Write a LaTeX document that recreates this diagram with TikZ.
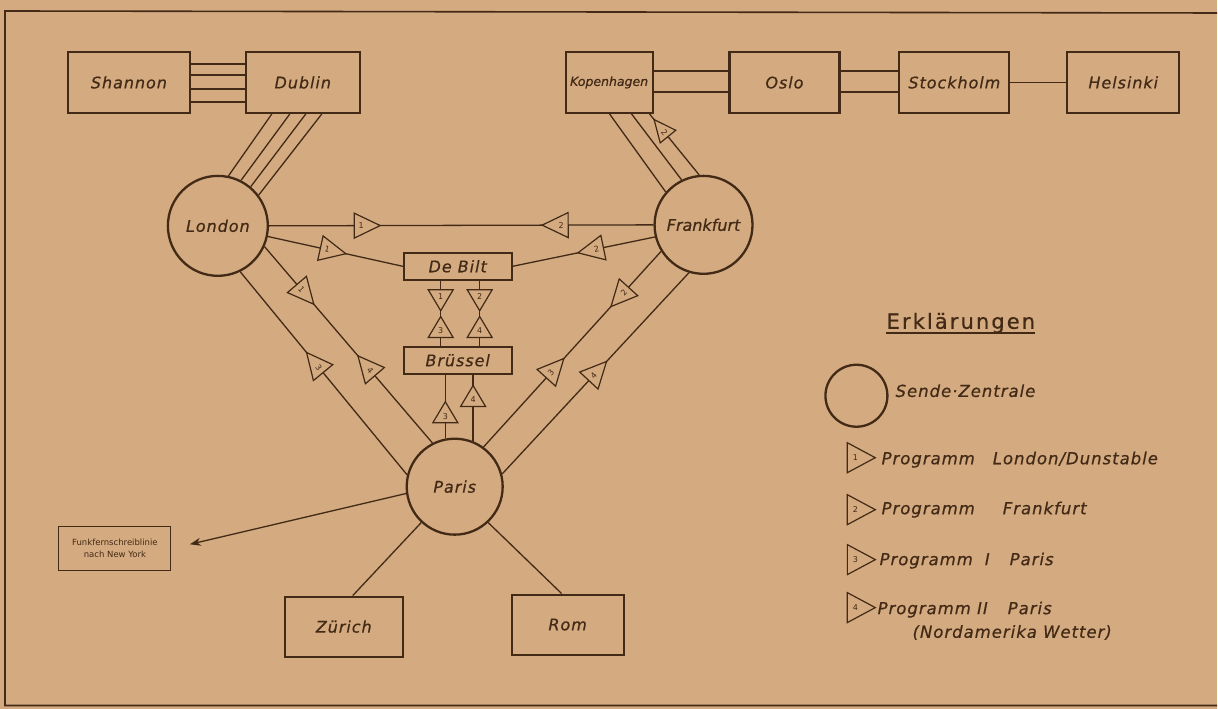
\documentclass[tikz,border=0pt]{standalone}
\usepackage{fontspec}
\setmainfont{DejaVu Sans}
\newfontfamily\lab[LetterSpace=6,FakeBold=0.6]{DejaVu Sans}
\newfontfamily\labw[LetterSpace=10,FakeBold=0.6]{DejaVu Sans}
\newfontfamily\labk[FakeBold=0.6]{DejaVu Sans}
\newfontfamily\labt{DejaVu Sans}
\usetikzlibrary{shapes.geometric,arrows.meta}
\definecolor{bg}{RGB}{212,170,128}
\definecolor{ink}{RGB}{66,42,22}
\tikzset{
  box/.style={draw=ink, line width=2.1pt, rectangle, minimum height=61pt, inner sep=0pt, text=ink,
    font=\lab\itshape\fontsize{16}{18}\selectfont},
  sbox/.style={box, minimum height=27pt, minimum width=108pt, line width=1.7pt},
  city/.style={draw=ink, circle, line width=2.3pt, inner sep=0pt, text=ink,
    font=\lab\itshape\fontsize{16}{18}\selectfont},
  link/.style={draw=ink, line width=1.3pt},
  tribase/.style={isosceles triangle, isosceles triangle stretches, draw=ink, fill=bg,
    line width=1.2pt, inner sep=0pt, minimum height=26pt, minimum width=25pt, text=ink,
    font=\labt\fontsize{8}{8}\selectfont},
  tri/.style={tribase, sloped},
  trirev/.style={tribase, sloped, shape border rotate=180},
  tdown/.style={tribase, shape border rotate=270, minimum height=21pt, minimum width=25pt},
  tup/.style={tribase, shape border rotate=90, minimum height=21pt, minimum width=25pt},
  ltri/.style={tribase, minimum height=28pt, minimum width=30pt},
  legtext/.style={anchor=west, inner sep=0pt, text=ink, font=\lab\itshape\fontsize{16.5}{18}\selectfont},
}
\begin{document}
\begin{tikzpicture}[x=1pt,y=-1pt]
\fill[bg] (0,0) rectangle (1218,709);
\draw[ink, line width=1.6pt] (1218,13) -- (5,11) -- (5,706) -- (1218,706);

% boxes
\node[box, minimum width=122pt] (shannon) at (129,82.5) {Shannon};
\node[box, minimum width=114pt] (dublin) at (303,82.5) {Dublin};
\node[box, minimum width=87pt, font=\labk\itshape\fontsize{12.5}{15}\selectfont] (kop) at (609.5,82.5) {Kopenhagen};
\node[box, minimum width=110pt] (oslo) at (785,82.5) {Oslo};
\node[box, minimum width=110pt] (stock) at (955,82.5) {Stockholm};
\node[box, minimum width=112pt] (hel) at (1124,82.5) {Helsinki};
\node[city, minimum size=100pt] (london) at (218,226) {London};
\node[city, minimum size=98pt, font=\labk\itshape\fontsize{16}{18}\selectfont] (frankfurt) at (704,225) {Frankfurt};
\node[city, minimum size=96pt] (paris) at (455,487) {Paris};
\node[sbox] (debilt) at (458,266.5) {De Bilt};
\node[sbox] (bruessel) at (458,360.5) {Brüssel};
\node[box, minimum width=118pt, minimum height=60pt] (zurich) at (344,627) {Zürich};
\node[box, minimum width=112pt, minimum height=60pt] (rom) at (568,625) {Rom};
\node[draw=ink, line width=1pt, minimum width=112pt, minimum height=44pt, align=center, inner sep=0pt,
  font=\labt\fontsize{8.5}{12}\selectfont, text=ink] (ny) at (115,549) {Funkfernschreiblinie\\nach New York};

% northern links
\foreach \y in {64,75,89,102} \draw[link] (shannon.east |- 0,\y) -- (dublin.west |- 0,\y);
\foreach \y in {71,92} {
  \draw[link] (kop.east |- 0,\y) -- (oslo.west |- 0,\y);
  \draw[link] (oslo.east |- 0,\y) -- (stock.west |- 0,\y);
}
\draw[link] (stock.east) -- (hel.west);

\draw[link] (dublin.south -| 272,0) -- (london.78);
\draw[link] (dublin.south -| 290,0) -- (london.63);
\draw[link] (dublin.south -| 306,0) -- (london.50);
\draw[link] (dublin.south -| 322,0) -- (london.37);

\draw[link] (kop.south -| 610,0) -- (frankfurt.139);
\draw[link] (kop.south -| 632,0) -- (frankfurt.116);
\draw[link] (kop.south -| 650,0) -- node[trirev,pos=.3,minimum height=22pt,minimum width=20pt] (m0) {2} (frankfurt.95);

% London - Frankfurt - De Bilt
\draw[link] (london.east) -- node[tri,pos=.24] (m1) {1} node[trirev,pos=.76] (m2) {2} (frankfurt.west);
\draw[link] (london.-12) -- node[tri,pos=.44] (m3) {1} (debilt.west);
\draw[link] (debilt.east) -- node[trirev,pos=.59] (m4) {2} (frankfurt.194);

% De Bilt - Bruessel
\draw[link] (debilt.south -| 441,0) -- node[tdown,pos=.24] (m5) {1} node[tup,pos=.77] (m6) {3} (bruessel.north -| 441,0);
\draw[link] (debilt.south -| 480,0) -- node[tdown,pos=.24] (m7) {2} node[tup,pos=.77] (m8) {4} (bruessel.north -| 480,0);

% Bruessel - Paris
\draw[link] (bruessel.south -| paris.101) -- node[tup,pos=.65] (m9) {3} (paris.101);
\draw[link] (bruessel.south -| paris.68) -- node[tup,pos=.38] (m10) {4} (paris.68);

% London - Paris
\draw[link] (london.-24) -- node[tri,pos=.22] (m11) {1} node[trirev,pos=.63] (m12) {4} (paris.117);
\draw[link] (london.-64) -- node[trirev,pos=.47] (m13) {3} (paris.166);

% Frankfurt - Paris
\draw[link] (paris.54) -- node[tri,pos=.38] (m14) {3} node[trirev,pos=.79] (m15) {2} (frankfurt.212);
\draw[link] (paris.15) -- node[tri,pos=.49] (m16) {4} (frankfurt.253);

% Paris - south
\draw[link] (paris.227) -- ([xshift=9pt]zurich.north);
\draw[link] (paris.-47) -- ([xshift=-6pt]rom.north);
\draw[link, -{Stealth[length=11pt,width=8pt]}, shorten >=19pt] (paris.188) -- (ny.east);

% legend
\node[anchor=base west, inner sep=0pt, text=ink, font=\labw\fontsize{21}{24}\selectfont] (erk) at (887,329) {Erklärungen};
\draw[ink, line width=2.4pt] ([yshift=-4pt]erk.base west) -- ([yshift=-4pt]erk.base east);
\node[city, minimum size=62pt] (lc) at (857,396) {};
\node[legtext] (lsz) at (896,391) {Sende·Zentrale};
\node[ltri] (l1) at (856,458) {1};
\node[ltri] (l2) at (856,510) {2};
\node[ltri] (l3) at (856,560) {3};
\node[ltri] (l4) at (856,608) {4};
\node[legtext] (p1) at (882,460) {Programm\hspace{18pt}London/Dunstable};
\node[legtext] (p2) at (882,510) {Programm\hspace{28pt}Frankfurt};
\node[legtext] (p3) at (880,561) {Programm\hspace{12pt}I\hspace{20pt}Paris};
\node[legtext] (p4) at (878,610) {Programm II\hspace{20pt}Paris};
\node[legtext] (p5) at (913,633) {(Nordamerika Wetter)};
\end{tikzpicture}
\end{document}
